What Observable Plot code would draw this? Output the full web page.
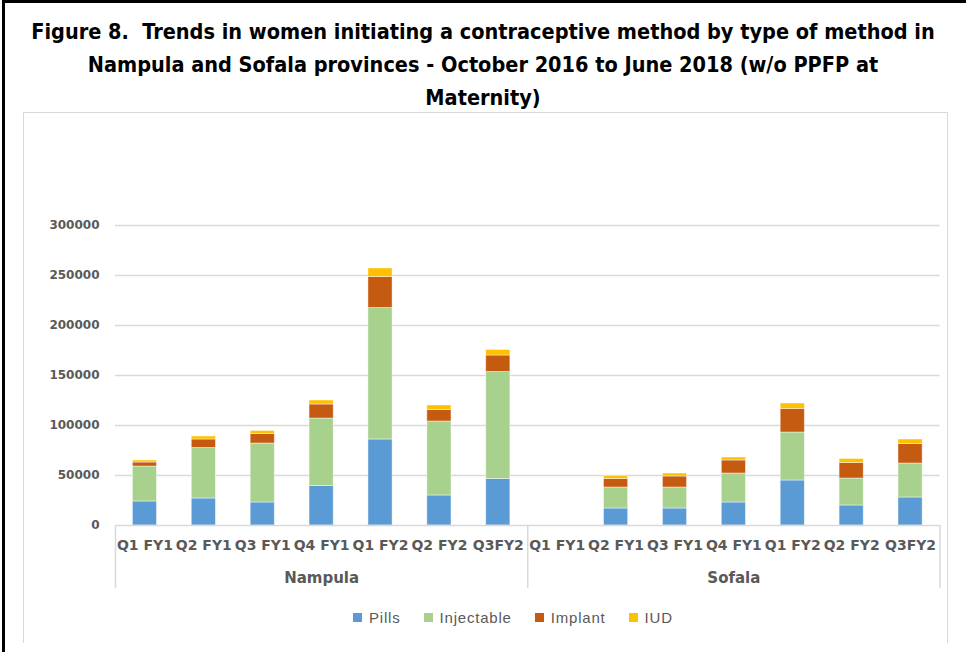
<!DOCTYPE html>
<html>
<head>
<meta charset="utf-8">
<script src="https://cdn.jsdelivr.net/npm/d3@7"></script>
<script src="https://cdn.jsdelivr.net/npm/@observablehq/plot@0.6"></script>
<style>
  html, body { margin: 0; padding: 0; background: #fff; }
  #page { position: relative; width: 966px; height: 652px; overflow: hidden; background: #fff; }
  #outer { position: absolute; left: 2px; top: 0; width: 970px; height: 660px; border-left: 3px solid #000; border-top: 3px solid #000; box-sizing: border-box; }
  #title { position: absolute; left: 0; top: 15px; width: 966px; text-align: center; font-family: "Liberation Sans Narrow", "DejaVu Sans Condensed", sans-serif; font-weight: bold; font-size: 21.5px; line-height: 33px; color: #000; white-space: pre; }
  #box { position: absolute; left: 23px; top: 112px; width: 925px; height: 531px; border: 1.5px solid #d9d9d9; border-bottom: none; box-sizing: border-box; }
  #chart { position: absolute; left: 0; top: 113px; }
  #legend { position: absolute; left: 353px; top: 609px; display: flex; align-items: center; font-family: "Liberation Sans", sans-serif; font-size: 15px; letter-spacing: 0.8px; color: #595959; }
  #legend .item { display: flex; align-items: center; margin-right: 23px; }
  #legend .sw { width: 9px; height: 9px; margin-right: 7px; }
</style>
</head>
<body>
<div id="page">
  <div id="outer"></div>
  <div id="title"></div>
  <div id="box"></div>
  <div id="chart"></div>
  <div id="legend"></div>
</div>
<script>
const titleLines = [
  "Figure 8.  Trends in women initiating a contraceptive method by type of method in",
  "Nampula and Sofala provinces - October 2016 to June 2018 (w/o PPFP at",
  "Maternity)"
];
const provinces = ["Nampula", "Sofala"];
const quarters = ["Q1 FY1", "Q2 FY1", "Q3 FY1", "Q4 FY1", "Q1 FY2", "Q2 FY2", "Q3FY2"];
const methods = ["Pills", "Injectable", "Implant", "IUD"];
const methodColors = ["#5B9BD5", "#A9D18E", "#C55A11", "#FFC000"];
const yTicks = [0, 50000, 100000, 150000, 200000, 250000, 300000];

// values per bar: Nampula Q1 FY1..Q3FY2, then Sofala Q1 FY1..Q3FY2
const pills      = [24000, 27000, 23000, 39500,  86000, 30000,  46500,   0, 17000, 17000, 23000, 45000, 20000, 28000];
const injectable = [35000, 50500, 59000, 67500, 131500, 74000, 107000,   0, 21000, 21000, 29000, 48000, 27000, 34000];
const implant    = [ 4000,  8500,  9500, 14000,  31000, 11500,  16500,   0,  8500, 11000, 13000, 23500, 15500, 19500];
const iud        = [ 2000,  3000,  3000,  4000,   8500,  4500,   5500,   0,  3000,  3000,  3000,  5500,  4000,  4500];
const series = [pills, injectable, implant, iud];

document.getElementById("title").textContent = titleLines.join("\n");

const keys = provinces.flatMap(p => quarters.map(q => p + "|" + q));
const rows = [];
methods.forEach((m, mi) => keys.forEach((k, i) => rows.push({key: k, method: m, value: series[mi][i]})));

const W = 966, H = 480, ML = 115, MR = 26.5, MT = 112, MB = 68;
const step = (W - ML - MR) / keys.length;
const firstKeys = provinces.map(p => p + "|" + quarters[0]);
const lastKey = keys[keys.length - 1];
const midKeys = provinces.map(p => p + "|" + quarters[3]);

const chart = Plot.plot({
  width: W,
  height: H,
  marginLeft: ML,
  marginRight: MR,
  marginTop: MT,
  marginBottom: MB,
  style: {fontFamily: "DejaVu Sans, sans-serif", color: "#595959", background: "transparent", overflow: "visible"},
  x: {domain: keys, paddingInner: 0.59, paddingOuter: 0.295, round: false, axis: null},
  y: {domain: [0, 300000], axis: null},
  color: {domain: methods, range: methodColors},
  marks: [
    Plot.gridY(yTicks.filter(t => t > 0), {stroke: "#d9d9d9", strokeOpacity: 1, strokeWidth: 1.3}),
    Plot.barY(rows, {x: "key", y: "value", fill: "method", order: methods, stroke: "#ffffff", strokeOpacity: 0.55, strokeWidth: 0.8}),
    Plot.ruleY([0], {stroke: "#d9d9d9", strokeWidth: 1.5}),
    Plot.ruleX(firstKeys, {x: d => d, dx: -step / 2, insetTop: H - MT - MB, insetBottom: -63, stroke: "#d9d9d9", strokeWidth: 1.5}),
    Plot.ruleX([lastKey], {x: d => d, dx: step / 2, insetTop: H - MT - MB, insetBottom: -63, stroke: "#d9d9d9", strokeWidth: 1.5}),
    Plot.axisY({ticks: yTicks, label: null, tickSize: 0, tickPadding: 16, tickFormat: d => String(d), fontSize: 12, fontWeight: "bold", fill: "#595959"}),
    Plot.text(keys, {x: d => d, text: d => d.split("|")[1], frameAnchor: "bottom", dy: 24, fontSize: 14, fontWeight: "bold", fill: "#595959"}),
    Plot.text(midKeys, {x: d => d, text: d => d.split("|")[0], frameAnchor: "bottom", dy: 57, fontSize: 15, fontWeight: "bold", fill: "#595959"})
  ]
});
document.getElementById("chart").appendChild(chart);

const legend = document.getElementById("legend");
methods.forEach((m, i) => {
  const item = document.createElement("div");
  item.className = "item";
  const sw = document.createElement("div");
  sw.className = "sw";
  sw.style.background = methodColors[i];
  const t = document.createElement("span");
  t.textContent = m;
  item.appendChild(sw);
  item.appendChild(t);
  legend.appendChild(item);
});
</script>
</body>
</html>
